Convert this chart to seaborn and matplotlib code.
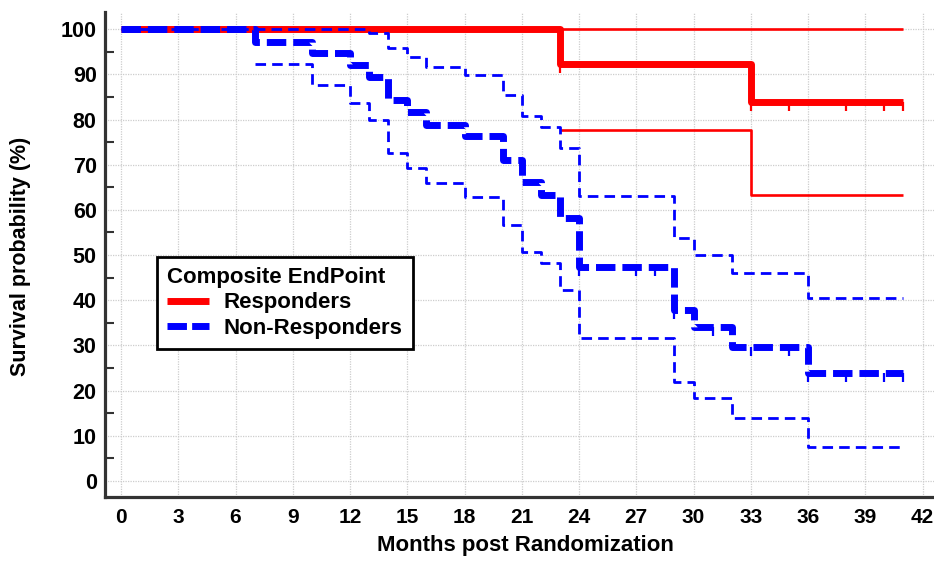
import numpy as np
import pandas as pd
import matplotlib
matplotlib.use("Agg")
import matplotlib.pyplot as plt
import seaborn as sns
from matplotlib.path import Path
from matplotlib.lines import Line2D
from matplotlib.ticker import MultipleLocator

# ---------------- data ----------------
resp_time = [0, 23, 33, 41]
resp_surv = [100, 92.3, 83.9, 83.9]
resp_upper_time = [0, 41]
resp_upper = [100, 100]
resp_lower_time = [23, 33, 41]
resp_lower = [77.7, 63.3, 63.3]
resp_cens_time = [23, 33, 35, 38, 40, 41]

non_time = [0, 7, 10, 12, 13, 14, 15, 16, 18, 20, 21, 22, 23, 24, 29, 30, 32, 36, 41]
non_surv = [100, 97.2, 94.7, 92.0, 89.4, 84.3, 81.6, 78.9, 76.3, 71.0, 66.2, 63.3,
            58.2, 47.3, 37.8, 34.1, 29.6, 23.9, 23.9]
non_upper_time = [0, 13, 14, 15, 16, 18, 20, 21, 22, 23, 24, 29, 30, 32, 36, 41]
non_upper = [100, 99.1, 95.8, 93.8, 91.6, 89.8, 85.4, 80.8, 78.3, 73.7, 63.1, 53.8,
             50.0, 46.0, 40.5, 40.5]
non_lower_time = [7, 10, 12, 13, 14, 15, 16, 18, 20, 21, 22, 23, 24, 29, 30, 32, 36, 41]
non_lower = [92.3, 87.6, 83.6, 79.9, 72.6, 69.2, 65.9, 62.8, 56.6, 50.7, 48.2, 42.3,
             31.6, 21.9, 18.4, 13.9, 7.5, 7.5]
non_cens_time = [24, 27, 28, 29, 31, 33, 35, 36, 38, 40, 41]

x_ticks = list(range(0, 43, 3))
y_ticks = list(range(0, 101, 10))
legend_title = "Composite EndPoint"
group_names = ["Responders", "Non-Responders"]
x_label = "Months post Randomization"
y_label = "Survival probability (%)"

# ---------------- style ----------------
sns.set_theme(style="white")
plt.rcParams["font.family"] = ["Liberation Sans", "DejaVu Sans"]
plt.rcParams["font.weight"] = "bold"
plt.rcParams["axes.labelweight"] = "bold"
plt.rcParams["text.color"] = "black"
plt.rcParams["axes.labelcolor"] = "black"
plt.rcParams["xtick.color"] = "black"
plt.rcParams["ytick.color"] = "black"

RED = "#ff0000"
BLUE = "#0000ff"

fig = plt.figure(figsize=(9.34, 5.61), dpi=100)
ax = fig.add_axes([105 / 934, 64 / 561, 829 / 934, 485 / 561])


def step_line(t, s, color, lw, dashes=None, z=3):
    df = pd.DataFrame({"t": t, "s": s})
    n_before = len(ax.lines)
    sns.lineplot(data=df, x="t", y="s", drawstyle="steps-post", color=color,
                 linewidth=lw, estimator=None, legend=False, ax=ax, zorder=z)
    line = ax.lines[n_before]
    if dashes is not None:
        line.set_dashes(dashes)
    line.set_solid_capstyle("butt")
    line.set_dash_capstyle("butt")
    return line


def km_value(t, s, at):
    idx = np.searchsorted(np.asarray(t), np.asarray(at), side="right") - 1
    return np.asarray(s)[idx]


tick_marker = Path([(0, 0), (0, -1)], [Path.MOVETO, Path.LINETO])

# Responders (red)
step_line(resp_upper_time, resp_upper, RED, 1.9, z=3)
step_line(resp_lower_time, resp_lower, RED, 1.9, z=3)
step_line(resp_time, resp_surv, RED, 5.0, z=4)
ax.plot(resp_cens_time, km_value(resp_time, resp_surv, resp_cens_time),
        linestyle="none", marker=tick_marker, markersize=13,
        markeredgewidth=1.6, color=RED, zorder=4)

# Non-Responders (blue)
step_line(non_upper_time, non_upper, BLUE, 2.0, dashes=(3.8, 2.2), z=5)
step_line(non_lower_time, non_lower, BLUE, 2.0, dashes=(3.8, 2.2), z=5)
step_line(non_time, non_surv, BLUE, 5.0, dashes=(2.8, 1.0), z=6)
ax.plot(non_cens_time, km_value(non_time, non_surv, non_cens_time),
        linestyle="none", marker=tick_marker, markersize=13,
        markeredgewidth=1.6, color=BLUE, zorder=6)

# ---------------- axes ----------------
ax.set_xlim(-0.84, 42.6)
ax.set_ylim(-3.54, 103.8)
ax.set_xticks(x_ticks)
ax.set_yticks(y_ticks)
ax.yaxis.set_minor_locator(MultipleLocator(5))
ax.set_xticklabels([str(v) for v in x_ticks], fontsize=15, fontweight="bold")
ax.set_yticklabels([str(v) for v in y_ticks], fontsize=15.5, fontweight="bold")

ax.grid(True, which="major", color="#cdcdcd", linestyle=(0, (1, 1)), linewidth=0.9)
ax.set_axisbelow(True)

for side in ["top", "right"]:
    ax.spines[side].set_visible(False)
for side in ["left", "bottom"]:
    ax.spines[side].set_color("#333333")
    ax.spines[side].set_linewidth(2.3)

ax.tick_params(axis="y", which="major", direction="in", length=12, width=1.5,
               color="#333333", pad=6, labelcolor="black")
ax.tick_params(axis="y", which="minor", direction="in", length=6.5, width=1.5,
               color="#333333", left=True)
ax.tick_params(axis="x", which="major", direction="in", length=10, width=1.5,
               color="#333333", pad=8, labelcolor="black")

ax.set_xlabel(x_label, fontsize=16, fontweight="bold", color="black")
ax.set_ylabel(y_label, fontsize=15.5, fontweight="bold", color="black")
ax.xaxis.set_label_coords(0.507, -0.079)
ax.yaxis.set_label_coords(-0.089, 0.497)

# ---------------- legend ----------------
handles = [
    Line2D([], [], color=RED, linewidth=5.0, solid_capstyle="butt"),
    Line2D([], [], color=BLUE, linewidth=5.0, dashes=(2.8, 0.75), dash_capstyle="butt"),
]
leg = ax.legend(handles, group_names, title=legend_title,
                loc="upper left", bbox_to_anchor=(157 / 934, 1 - 257 / 561),
                bbox_transform=fig.transFigure, borderaxespad=0,
                prop={"size": 16, "weight": "bold"},
                title_fontproperties={"size": 16, "weight": "bold"},
                alignment="left", frameon=True, fancybox=False,
                edgecolor="black", framealpha=1, borderpad=0.45,
                handlelength=1.9, handletextpad=0.65, labelspacing=0.2)
leg.get_frame().set_linewidth(2.0)
leg.get_title().set_color("black")
for txt in leg.get_texts():
    txt.set_color("black")
leg.set_zorder(10)

fig.savefig("out.png", dpi=100)
